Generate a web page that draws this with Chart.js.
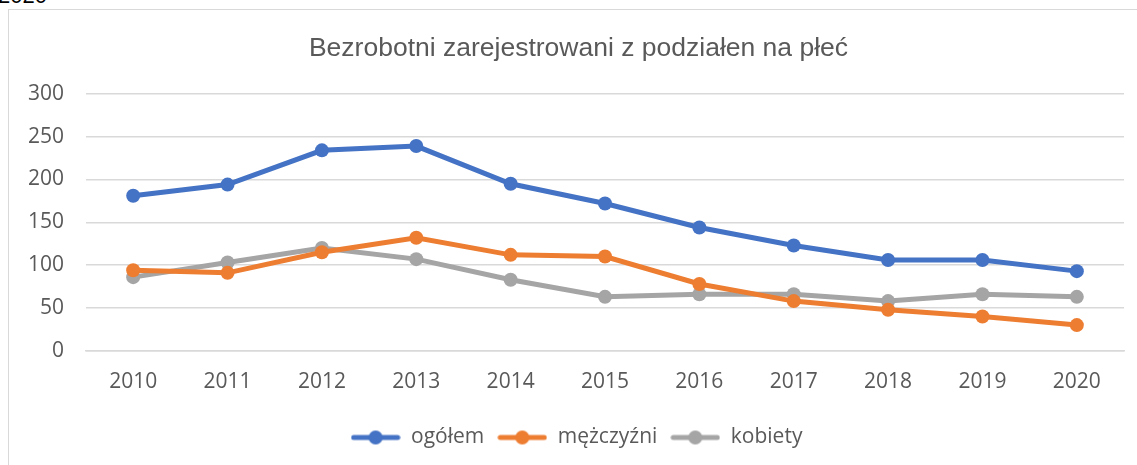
<!DOCTYPE html>
<html>
<head>
<meta charset="utf-8">
<script src="https://cdn.jsdelivr.net/npm/chart.js@4"></script>
<style>
  body { margin: 0; background: #fff; overflow: hidden; }
  .cut-label { position: absolute; left: -2px; top: -17px; font: 22px "Liberation Sans", Arial, sans-serif; color: #000; }
  .chart-box { position: absolute; left: 8px; top: 9px; width: 1140px; height: 470px; border: 1.5px solid #d9d9d9; box-sizing: border-box; }
  .chart-inner { position: absolute; left: 0; top: 0; width: 1128px; height: 456px; }
</style>
</head>
<body>
<div class="cut-label">2020</div>
<div class="chart-box">
  <div class="chart-inner"><canvas id="chart"></canvas></div>
</div>
<script>
const years = ["2010", "2011", "2012", "2013", "2014", "2015", "2016", "2017", "2018", "2019", "2020"];
const ogolem = [181, 194, 234, 239, 195, 172, 144, 123, 106, 106, 93];
const mezczyzni = [94, 91, 115, 132, 112, 110, 78, 58, 48, 40, 30];
const kobiety = [86, 103, 120, 107, 83, 63, 66, 66, 58, 66, 63];
const seriesNames = ["ogółem", "mężczyźni", "kobiety"];
const colors = ["#4472c4", "#ed7d31", "#a5a5a5"];

// legend marker: line with a dot in the middle
function legendMarker(color) {
  const c = document.createElement("canvas");
  c.width = 50;
  c.height = 16;
  const ctx = c.getContext("2d");
  ctx.strokeStyle = color;
  ctx.lineWidth = 5;
  ctx.lineCap = "round";
  ctx.beginPath();
  ctx.moveTo(3, 8);
  ctx.lineTo(47, 8);
  ctx.stroke();
  ctx.fillStyle = color;
  ctx.beginPath();
  ctx.arc(25, 8, 7, 0, Math.PI * 2);
  ctx.fill();
  return c;
}

function makeSet(label, data, color) {
  return {
    label: label,
    data: data,
    borderColor: color,
    backgroundColor: color,
    borderWidth: 5,
    pointRadius: 7,
    pointHoverRadius: 7,
    pointBorderWidth: 0,
    tension: 0
  };
}

// nudge title and legend a bit to the right, like in the original
const shiftBlocks = {
  id: "shiftBlocks",
  afterLayout(chart) {
    if (chart.titleBlock) { chart.titleBlock.left += 12; chart.titleBlock.right += 12; }
    if (chart.legend) { chart.legend.left += 10; chart.legend.right += 10; }
  }
};

const tickFont = { family: "'Open Sans', sans-serif", size: 21 };

function draw() {
  new Chart(document.getElementById("chart"), {
    type: "line",
    data: {
      labels: years,
      datasets: [
        makeSet(seriesNames[0], ogolem, colors[0]),
        makeSet(seriesNames[1], mezczyzni, colors[1]),
        makeSet(seriesNames[2], kobiety, colors[2])
      ]
    },
    options: {
      responsive: true,
      maintainAspectRatio: false,
      animation: false,
      layout: { padding: { left: 0, right: 13, top: 0, bottom: 8 } },
      plugins: {
        title: {
          display: true,
          text: "Bezrobotni zarejestrowani z podziałen na płeć",
          color: "#595959",
          font: { family: "'Liberation Sans', Arial, sans-serif", size: 26.5, weight: "normal" },
          padding: { top: 23, bottom: 29 }
        },
        legend: {
          position: "bottom",
          labels: {
            color: "#595959",
            font: { family: "'Open Sans', sans-serif", size: 21 },
            usePointStyle: true,
            pointStyleWidth: 50,
            padding: 13,
            generateLabels: function (chart) {
              const items = Chart.defaults.plugins.legend.labels.generateLabels(chart);
              items.forEach(function (it, i) { it.pointStyle = legendMarker(colors[i]); });
              return items;
            }
          }
        },
        tooltip: { enabled: false }
      },
      scales: {
        x: {
          offset: true,
          grid: { display: false, drawTicks: false },
          border: { display: true, color: "#d9d9d9", width: 1.5 },
          ticks: { color: "#595959", font: tickFont, padding: 19 }
        },
        y: {
          min: 0,
          max: 300,
          grid: { color: "#d9d9d9", lineWidth: 1.5, drawTicks: false },
          border: { display: false },
          ticks: { stepSize: 50, color: "#595959", font: tickFont, padding: 22 },
          afterFit: function (scale) { scale.width = 77; }
        }
      }
    },
    plugins: [shiftBlocks]
  });
}

Promise.all([
  document.fonts.load("21px 'Open Sans'"),
  document.fonts.load("26px 'Liberation Sans'")
]).then(draw, draw);
</script>
</body>
</html>
